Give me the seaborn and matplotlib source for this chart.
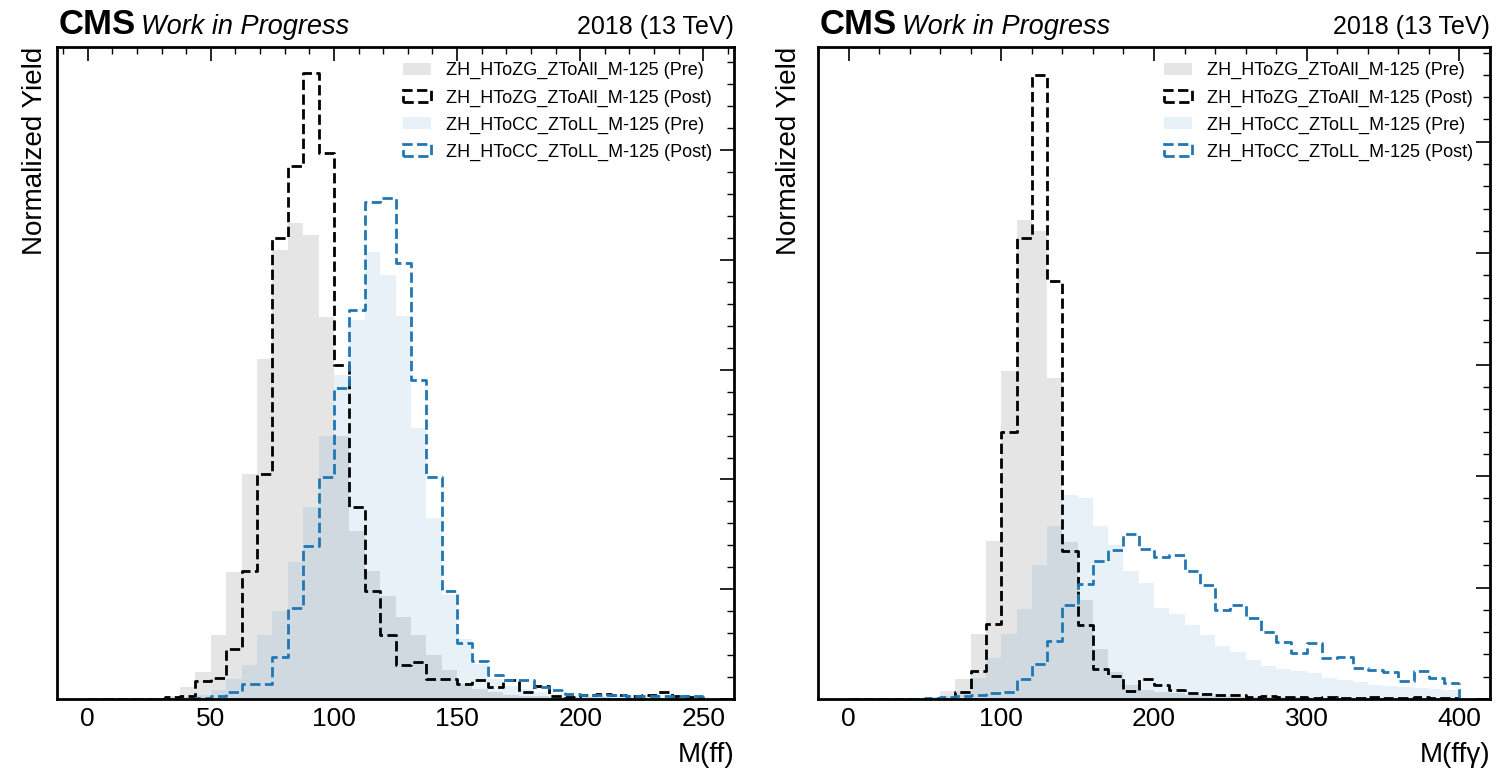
import numpy as np
import pandas as pd
import matplotlib
matplotlib.use("Agg")
import matplotlib.pyplot as plt
import seaborn as sns
from matplotlib.patches import Patch
from matplotlib.ticker import MultipleLocator, NullFormatter

# ---------------- data (normalized yield per bin, arbitrary units) ----------------
# left panel: M(ff), 40 bins from 0 to 250
edges_ff = np.linspace(0, 250, 41)
zg_pre_ff = [0, 0, 0, 0, 0.01, 0.03, 0.11, 0.25, 0.58, 1.16,
             2.05, 3.10, 4.09, 4.34, 4.23, 3.48, 2.40, 1.53, 1.17, 0.94,
             0.75, 0.58, 0.40, 0.26, 0.14, 0.09, 0.06, 0.04, 0.03, 0.03,
             0.02, 0.02, 0.02, 0.02, 0.01, 0.01, 0.01, 0.01, 0.01, 0.01]
zg_post_ff = [0, 0, 0, 0, 0, 0.02, 0.03, 0.16, 0.19, 0.46,
              1.17, 2.05, 4.20, 4.86, 5.70, 4.97, 3.04, 1.75, 0.98, 0.58,
              0.31, 0.34, 0.18, 0.18, 0.14, 0.17, 0.11, 0.17, 0.06, 0.12,
              0.03, 0.02, 0.04, 0.05, 0.04, 0.03, 0.04, 0.06, 0.03, 0.02]
cc_pre_ff = [0, 0, 0, 0, 0, 0, 0.02, 0.04, 0.08, 0.18,
             0.31, 0.58, 0.80, 1.25, 1.75, 2.40, 2.95, 3.45, 4.07, 3.86,
             3.49, 2.47, 1.65, 0.95, 0.55, 0.32, 0.18, 0.12, 0.09, 0.06,
             0.05, 0.04, 0.04, 0.03, 0.03, 0.03, 0.02, 0.02, 0.02, 0.02]
cc_post_ff = [0, 0, 0, 0, 0, 0, 0, 0.01, 0.03, 0.06,
              0.14, 0.14, 0.38, 0.83, 1.39, 2.02, 2.83, 3.54, 4.53, 4.56,
              3.97, 2.91, 2.02, 0.98, 0.51, 0.35, 0.22, 0.175, 0.17, 0.11,
              0.08, 0.05, 0.04, 0.04, 0.035, 0.03, 0.03, 0.03, 0.025, 0.025]

# right panel: M(ffγ), 40 bins from 0 to 400
edges_ffg = np.linspace(0, 400, 41)
zg_pre_ffg = [0, 0, 0, 0, 0, 0.02, 0.075, 0.18, 0.58, 1.42,
              2.94, 4.30, 4.20, 2.88, 1.41, 0.89, 0.45, 0.24, 0.125, 0.08,
              0.06, 0.05, 0.04, 0.03, 0.03, 0.02, 0.02, 0.02, 0.015, 0.015,
              0.01, 0.01, 0.01, 0.01, 0.01, 0.01, 0.01, 0.01, 0.01, 0.01]
zg_post_ffg = [0, 0, 0, 0, 0, 0, 0, 0.06, 0.25, 0.67,
               2.40, 4.14, 5.60, 3.75, 1.33, 0.66, 0.27, 0.21, 0.07, 0.18,
               0.13, 0.085, 0.05, 0.045, 0.04, 0.035, 0.02, 0.03, 0.015, 0.015,
               0.012, 0.015, 0.012, 0.012, 0.015, 0.012, 0.01, 0.015, 0.012, 0.012]
cc_pre_ffg = [0, 0, 0, 0, 0, 0.01, 0.03, 0.07, 0.19, 0.37,
              0.58, 0.81, 1.20, 1.55, 1.83, 1.80, 1.55, 1.38, 1.15, 1.04,
              0.82, 0.76, 0.66, 0.57, 0.48, 0.42, 0.35, 0.30, 0.27, 0.25,
              0.23, 0.19, 0.17, 0.15, 0.13, 0.12, 0.11, 0.10, 0.09, 0.08]
cc_post_ffg = [0, 0, 0, 0, 0, 0.01, 0.02, 0.03, 0.04, 0.05,
               0.06, 0.18, 0.31, 0.52, 0.84, 1.03, 1.24, 1.34, 1.48, 1.35,
               1.27, 1.29, 1.15, 1.02, 0.80, 0.84, 0.73, 0.60, 0.51, 0.41,
               0.50, 0.37, 0.38, 0.28, 0.26, 0.245, 0.165, 0.25, 0.19, 0.14]

labels = ["ZH_HToZG_ZToAll_M-125 (Pre)", "ZH_HToZG_ZToAll_M-125 (Post)",
          "ZH_HToCC_ZToLL_M-125 (Pre)", "ZH_HToCC_ZToLL_M-125 (Post)"]

GREY = "#8c8c8c"
BLUE = "#1f77b4"

sns.set_theme(style="white")
plt.rcParams["font.family"] = ["Liberation Sans", "DejaVu Sans"]
plt.rcParams["text.color"] = "black"
plt.rcParams["axes.labelcolor"] = "black"
plt.rcParams["xtick.color"] = "black"
plt.rcParams["ytick.color"] = "black"

fig = plt.figure(figsize=(14.97, 7.72), dpi=100)
W, H = 1497.0, 772.0
axL = fig.add_axes([57 / W, 73 / H, 677 / W, 652 / H])
axR = fig.add_axes([818 / W, 73 / H, 672 / W, 652 / H])


def panel(ax, edges, zg_pre, zg_post, cc_pre, cc_post, xlim, ytop, xmaj, xmin_,
          xlabel, ylabelpad, leg_right):
    edges = [float(e) for e in edges]
    centers = [(a + b) / 2 for a, b in zip(edges[:-1], edges[1:])]
    df = pd.DataFrame({"x": centers, "zg_pre": zg_pre, "zg_post": zg_post,
                       "cc_pre": cc_pre, "cc_post": cc_post})
    sns.histplot(data=df, x="x", weights="zg_pre", bins=edges, element="step",
                 fill=True, color=GREY, alpha=0.22, linewidth=0, ax=ax)
    sns.histplot(data=df, x="x", weights="zg_post", bins=edges, element="step",
                 fill=False, color="black", linestyle="--", linewidth=2.0, ax=ax)
    sns.histplot(data=df, x="x", weights="cc_pre", bins=edges, element="step",
                 fill=True, color=BLUE, alpha=0.10, linewidth=0, ax=ax)
    sns.histplot(data=df, x="x", weights="cc_post", bins=edges, element="step",
                 fill=False, color=BLUE, linestyle="--", linewidth=2.0, ax=ax)
    # closing edges of the step outlines at the upper end of the range
    ax.vlines(edges[-1], 0, zg_post[-1], colors="black", linestyles="--", linewidth=2.0)
    ax.vlines(edges[-1], 0, cc_post[-1], colors=BLUE, linestyles="--", linewidth=2.0)

    ax.set_xlim(*xlim)
    ax.set_ylim(0, ytop)
    ax.xaxis.set_major_locator(MultipleLocator(xmaj))
    ax.xaxis.set_minor_locator(MultipleLocator(xmin_))
    ax.yaxis.set_major_locator(MultipleLocator(1.0))
    ax.yaxis.set_minor_locator(MultipleLocator(0.2))
    ax.yaxis.set_major_formatter(NullFormatter())
    ax.tick_params(which="both", direction="in", top=True, right=True, colors="black")
    ax.tick_params(which="major", length=10, width=1.2)
    ax.tick_params(which="minor", length=5, width=1.0)
    ax.tick_params(axis="x", which="major", labelsize=19, pad=6)
    for sp in ax.spines.values():
        sp.set_linewidth(2.0)
        sp.set_color("black")

    ax.set_ylabel("Normalized Yield", fontsize=20, loc="top", labelpad=ylabelpad)
    ax.set_xlabel(xlabel, fontsize=20, loc="right", labelpad=8)

    handles = [Patch(facecolor=GREY, alpha=0.22, edgecolor="none"),
               Patch(facecolor="none", edgecolor="black", linestyle="--", linewidth=2.0),
               Patch(facecolor=BLUE, alpha=0.10, edgecolor="none"),
               Patch(facecolor="none", edgecolor=BLUE, linestyle="--", linewidth=2.0)]
    axw = ax.get_position().width * W
    axh = ax.get_position().height * H
    ax.legend(handles, labels, loc="upper right", frameon=False, fontsize=13,
              bbox_to_anchor=(1 - leg_right / axw, 1 - 8 / axh), borderaxespad=0,
              handlelength=1.55, handleheight=0.65, labelspacing=0.55,
              handletextpad=0.8)

    yb = 1 + 13 / axh
    cms = ax.text(0.003, yb, "CMS", transform=ax.transAxes, ha="left", va="baseline",
                  fontsize=25, fontweight="bold")
    fig.canvas.draw()
    bb = cms.get_window_extent(fig.canvas.get_renderer())
    x0 = ax.transAxes.inverted().transform((bb.x1 + 5, bb.y0))[0]
    ax.text(x0, yb, "Work in Progress", transform=ax.transAxes, ha="left",
            va="baseline", fontsize=19.5, style="italic")
    ax.text(1.0, yb, "2018 (13 TeV)", transform=ax.transAxes, ha="right",
            va="baseline", fontsize=18)


panel(axL, edges_ff, zg_pre_ff, zg_post_ff, cc_pre_ff, cc_post_ff,
      (-12.5, 262.5), 5.94, 50, 10, "M(ff)", 3, 15)
panel(axR, edges_ffg, zg_pre_ffg, zg_post_ffg, cc_pre_ffg, cc_post_ffg,
      (-20, 420), 5.85, 100, 20, "M(ffγ)", 8, 10)

fig.savefig("out.png", dpi=100)
